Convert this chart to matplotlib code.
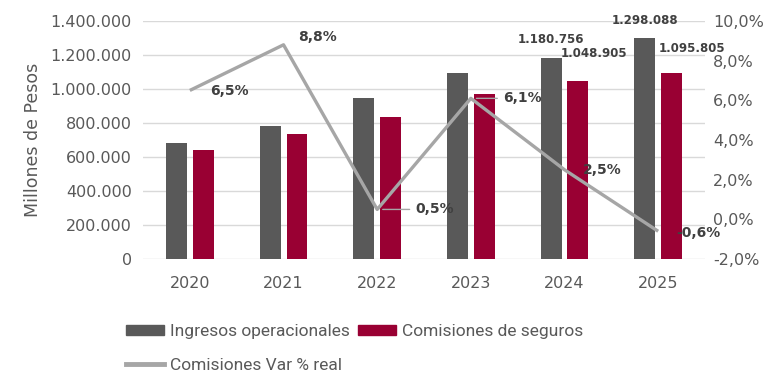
import numpy as np
import matplotlib.pyplot as plt
from matplotlib.patches import Patch
from matplotlib.lines import Line2D
from matplotlib.ticker import FuncFormatter

years = ["2020", "2021", "2022", "2023", "2024", "2025"]
ingresos = [682000, 784000, 947000, 1093000, 1180756, 1298088]
comisiones = [641000, 737000, 837000, 972000, 1048905, 1095805]
var_real = [6.5, 8.8, 0.5, 6.1, 2.5, -0.6]

# offsets (pixels) for the line labels: dx, dy, leader line
var_offsets = [(20, -1, False), (15, 8, False), (38, 0, True),
               (32, 0, True), (18, 0, False), (18, -2, False)]

GRAY = "#595959"
RED = "#990033"
LINE = "#A6A6A6"
TXT = "#595959"
LBL = "#404040"


def miles(v, pos=None):
    return f"{int(round(v)):,}".replace(",", ".")


def pct(v, pos=None):
    return f"{v:.1f}%".replace(".", ",")


fig = plt.figure(figsize=(7.79, 3.75), dpi=100)
ax = fig.add_axes([0.1836, 0.3093, 0.7214, 0.6347])
x = np.arange(len(years))
w = 0.224
off = 0.144

ax.bar(x - off, ingresos, w, color=GRAY, zorder=2)
ax.bar(x + off, comisiones, w, color=RED, zorder=2)
ax.set_xlim(-0.5, 5.5)
ax.set_ylim(0, 1400000)
ax.set_yticks(np.arange(0, 1400001, 200000))
ax.yaxis.set_major_formatter(FuncFormatter(miles))
ax.set_xticks(x)
ax.set_xticklabels(years)
ax.grid(axis="y", color="#D9D9D9", lw=1, zorder=0)
ax.set_axisbelow(True)
for s in ax.spines.values():
    s.set_visible(False)
ax.tick_params(length=0, labelsize=11.5, colors=TXT, pad=8)
ax.tick_params(axis="x", pad=12)
ax.set_ylabel("Millones de Pesos", fontsize=12.5, color=TXT, labelpad=6)

# value labels on the last two years
for i, dx, dy in [(4, 0, 19), (5, 0, 18)]:
    ax.annotate(miles(ingresos[i]), (x[i] - off, ingresos[i]), xytext=(dx, dy),
                textcoords="offset pixels", ha="center", va="center",
                fontsize=8.5, fontweight="bold", color=LBL)
for i, dx, dy in [(4, 16, 27), (5, 20, 24)]:
    ax.annotate(miles(comisiones[i]), (x[i] + off, comisiones[i]), xytext=(dx, dy),
                textcoords="offset pixels", ha="center", va="center",
                fontsize=8.5, fontweight="bold", color=LBL)

ax2 = ax.twinx()
ax2.plot(x, var_real, color=LINE, lw=2.4, solid_capstyle="butt", zorder=3)
ax2.set_ylim(-2, 10)
ax2.set_yticks(np.arange(-2, 10.1, 2))
ax2.yaxis.set_major_formatter(FuncFormatter(pct))
for s in ax2.spines.values():
    s.set_visible(False)
ax2.tick_params(length=0, labelsize=11.5, colors=TXT, pad=6)

for xi, v, (dx, dy, lead) in zip(x, var_real, var_offsets):
    kw = {}
    if lead:
        kw["arrowprops"] = dict(arrowstyle="-", color=LINE, lw=1,
                                shrinkA=2, shrinkB=4)
    ax2.annotate(pct(v), (xi, v), xytext=(dx, dy), textcoords="offset pixels",
                 ha="left", va="center", fontsize=10, fontweight="bold",
                 color=LBL, **kw)

handles = [Patch(color=GRAY), Line2D([], [], color=LINE, lw=3.5),
           Patch(color=RED)]
labels = ["Ingresos operacionales", "Comisiones Var % real",
          "Comisiones de seguros"]
fig.legend(handles, labels, ncol=2, loc="upper left",
           bbox_to_anchor=(0.162, 0.135), frameon=False,
           prop={"family": ["Roboto", "DejaVu Sans"], "size": 12.5},
           labelcolor=TXT, handlelength=2.2, handleheight=0.5,
           handletextpad=0.3, columnspacing=0.5, labelspacing=1.05,
           borderpad=0, borderaxespad=0)

fig.savefig("out.png", dpi=100)
